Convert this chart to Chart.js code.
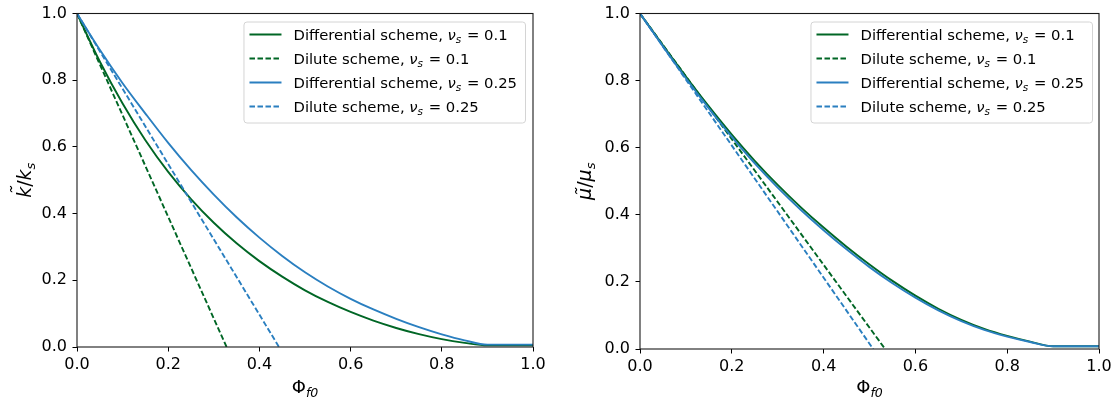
<!DOCTYPE html>
<html><head><meta charset="utf-8">
<script src="https://cdn.jsdelivr.net/npm/chart.js@4.4.0/dist/chart.umd.min.js"></script>
<style>
html,body{margin:0;padding:0;background:#fff;}
#wrap{position:relative;width:1118px;height:407px;overflow:hidden;}
canvas{position:absolute;top:0;}
</style></head><body>
<div id="wrap">
<canvas id="c1" width="559" height="407" style="left:0"></canvas>
<canvas id="c2" width="559" height="407" style="left:559px"></canvas>
</div>
<script>
// ---- data ----
const phi = [0,0.05,0.1,0.15,0.2,0.25,0.3,0.35,0.4,0.45,0.5,0.55,0.6,0.65,0.7,0.75,0.8,0.85,0.9,0.95,1.0];
const kDiff01   = [1.0,0.856,0.730,0.620,0.525,0.4435,0.3725,0.311,0.2575,0.211,0.170,0.135,0.105,0.079,0.057,0.0385,0.0235,0.0125,0.005,0.005,0.005];
const kDiff025  = [1.0,0.891,0.791,0.700,0.612,0.531,0.457,0.389,0.328,0.273,0.224,0.1815,0.1445,0.1125,0.0845,0.0595,0.038,0.020,0.007,0.007,0.007];
const muDiff01  = [1.0,0.905,0.812,0.723,0.639,0.561,0.489,0.423,0.362,0.305,0.252,0.203,0.159,0.120,0.087,0.060,0.039,0.022,0.008,0.008,0.008];
const muDiff025 = [1.0,0.902,0.807,0.717,0.632,0.553,0.481,0.415,0.354,0.297,0.244,0.196,0.153,0.115,0.083,0.057,0.037,0.021,0.008,0.008,0.008];
const diluteKPhi01   = [0, 0.328];
const diluteKPhi025  = [0, 0.443];
const diluteMuPhi01  = [0, 0.534];
const diluteMuPhi025 = [0, 0.508];
const diluteVal = [1, 0];
const tickValues = [0, 0.2, 0.4, 0.6, 0.8, 1.0];
const legendSchemes = ['Differential scheme', 'Dilute scheme', 'Differential scheme', 'Dilute scheme'];
const legendNu = ['0.1', '0.1', '0.25', '0.25'];

const GREEN = '#006625';
const BLUE = '#2a7fc0';
const FAM = '"DejaVu Sans", "Liberation Sans", sans-serif';

function drawParts(ctx, parts, x, y) {
  let cx = x;
  for (const p of parts) {
    ctx.font = p.font;
    const w = ctx.measureText(p.t).width;
    ctx.fillText(p.t, cx, y + (p.dy || 0));
    if (p.tilde) {
      ctx.save();
      ctx.font = p.font;
      ctx.textAlign = 'center';
      ctx.fillText('\u02dc', cx + w / 2 + (p.tdx || 0), y + p.tdy);
      ctx.restore();
    }
    cx += w + (p.sp || 0);
  }
  return cx - x;
}
function measureParts(ctx, parts) {
  let w = 0;
  for (const p of parts) { ctx.font = p.font; w += ctx.measureText(p.t).width + (p.sp || 0); }
  return w;
}

const framePlugin = {
  id: 'frame',
  afterDraw(chart) {
    const ctx = chart.ctx, a = chart.chartArea;
    ctx.save();
    ctx.strokeStyle = '#1a1a1a';
    ctx.lineWidth = 1.1;
    ctx.strokeRect(a.left, a.top, a.right - a.left, a.bottom - a.top);
    ctx.restore();
  }
};

function richPlugin(cfg) {
  return {
    id: 'rich',
    afterDraw(chart) {
      const ctx = chart.ctx, a = chart.chartArea;
      ctx.save();
      ctx.textBaseline = 'alphabetic';
      ctx.textAlign = 'left';
      // legend
      const N = `14.8px ${FAM}`, I = `italic 14.8px ${FAM}`, S = `italic 10.4px ${FAM}`;
      const rows = legendSchemes.map((s, i) => [
        {t: s + ', ', font: N}, {t: '\u03bd', font: I}, {t: 's', font: S, dy: 3, sp: 1},
        {t: ' = ' + legendNu[i], font: N}
      ]);
      const maxW = Math.max(...rows.map(r => measureParts(ctx, r)));
      const boxW = 6 + 32 + 12 + maxW + 8, boxH = 101;
      const bx = a.right - cfg.legendRight - boxW, by = a.top + cfg.legendTop;
      ctx.beginPath();
      ctx.roundRect(bx + 0.5, by + 0.5, boxW, boxH, 3);
      ctx.fillStyle = 'rgba(255,255,255,0.85)';
      ctx.fill();
      ctx.strokeStyle = '#d4d4d4';
      ctx.lineWidth = 1;
      ctx.stroke();
      chart.data.datasets.forEach((ds, i) => {
        const yc = by + 13 + 24 * i;
        ctx.save();
        ctx.strokeStyle = ds.borderColor;
        ctx.lineWidth = ds.borderWidth;
        ctx.setLineDash(ds.borderDash || []);
        ctx.beginPath();
        ctx.moveTo(bx + 6, yc);
        ctx.lineTo(bx + 38, yc);
        ctx.stroke();
        ctx.restore();
        ctx.fillStyle = '#000';
        drawParts(ctx, rows[i], bx + 50, yc + 5);
      });
      // x title
      const xParts = [{t: '\u03a6', font: `18px ${FAM}`}, {t: 'f0', font: `italic 12.5px ${FAM}`, dy: 4}];
      const xw = measureParts(ctx, xParts);
      ctx.fillStyle = '#000';
      drawParts(ctx, xParts, (a.left + a.right) / 2 - xw / 2, 393);
      // y title
      const L = cfg.sym;
      const yParts = [
        {t: L, font: `italic 19px ${FAM}`, tilde: true, tdy: cfg.tildeDy, tdx: 1.5},
        {t: '/', font: `19px ${FAM}`},
        {t: L, font: `italic 19px ${FAM}`},
        {t: 's', font: `italic 13px ${FAM}`, dy: 4}
      ];
      const yw = measureParts(ctx, yParts);
      ctx.translate(cfg.yTitleX, (a.top + a.bottom) / 2);
      ctx.rotate(-Math.PI / 2);
      drawParts(ctx, yParts, -yw / 2, 0);
      ctx.restore();
    }
  };
}

function series(x, y) { return x.map((v, j) => ({x: v, y: y[j]})); }

function makeChart(id, cfg) {
  const specs = [
    {x: phi, y: cfg.d01, color: GREEN, dash: false},
    {x: cfg.p01, y: diluteVal, color: GREEN, dash: true},
    {x: phi, y: cfg.d025, color: BLUE, dash: false},
    {x: cfg.p025, y: diluteVal, color: BLUE, dash: true}
  ];
  const tickFont = {family: FAM, size: 16, lineHeight: 1};
  return new Chart(document.getElementById(id), {
    type: 'scatter',
    data: {
      datasets: specs.map((s, i) => ({
        label: legendSchemes[i] + ', \u03bds = ' + legendNu[i],
        data: series(s.x, s.y),
        showLine: true,
        borderColor: s.color,
        backgroundColor: s.color,
        borderWidth: 1.9,
        borderDash: s.dash ? [5.5, 2.5] : [],
        pointRadius: 0,
        pointHoverRadius: 0,
        cubicInterpolationMode: 'monotone',
        order: 3 - i
      }))
    },
    options: {
      responsive: false,
      animation: false,
      devicePixelRatio: 1,
      layout: {padding: {left: 0, top: cfg.top, right: cfg.right, bottom: 0}},
      plugins: {legend: {display: false}, tooltip: {enabled: false}},
      scales: {
        x: {
          type: 'linear', min: 0, max: 1,
          afterBuildTicks: s => { s.ticks = tickValues.map(v => ({value: v})); },
          afterFit: s => { s.height = cfg.xh; },
          grid: {display: true, drawOnChartArea: false, drawTicks: true, tickLength: 4.5, color: '#000', tickColor: '#000', tickWidth: 1},
          border: {display: false},
          ticks: {color: '#000', font: tickFont, padding: 5, maxRotation: 0, autoSkip: false, callback: v => v.toFixed(1)}
        },
        y: {
          type: 'linear', min: 0, max: 1,
          afterBuildTicks: s => { s.ticks = tickValues.map(v => ({value: v})); },
          afterFit: s => { s.width = cfg.yw; },
          grid: {display: true, drawOnChartArea: false, drawTicks: true, tickLength: 4.5, color: '#000', tickColor: '#000', tickWidth: 1},
          border: {display: false},
          ticks: {color: '#000', font: tickFont, padding: 5.5, autoSkip: false, callback: v => v.toFixed(1)}
        }
      }
    },
    plugins: [framePlugin, richPlugin(cfg)]
  });
}

makeChart('c1', {d01: kDiff01, d025: kDiff025, p01: diluteKPhi01, p025: diluteKPhi025,
  top: 9, right: 26, xh: 60, yw: 77, legendTop: 8, legendRight: 8, sym: 'k', yTitleX: 31, tildeDy: -6});
makeChart('c2', {d01: muDiff01, d025: muDiff025, p01: diluteMuPhi01, p025: diluteMuPhi025,
  top: 8, right: 19, xh: 58, yw: 81, legendTop: 8, legendRight: 7, sym: '\u03bc', yTitleX: 32, tildeDy: -1});
</script>
</body></html>
